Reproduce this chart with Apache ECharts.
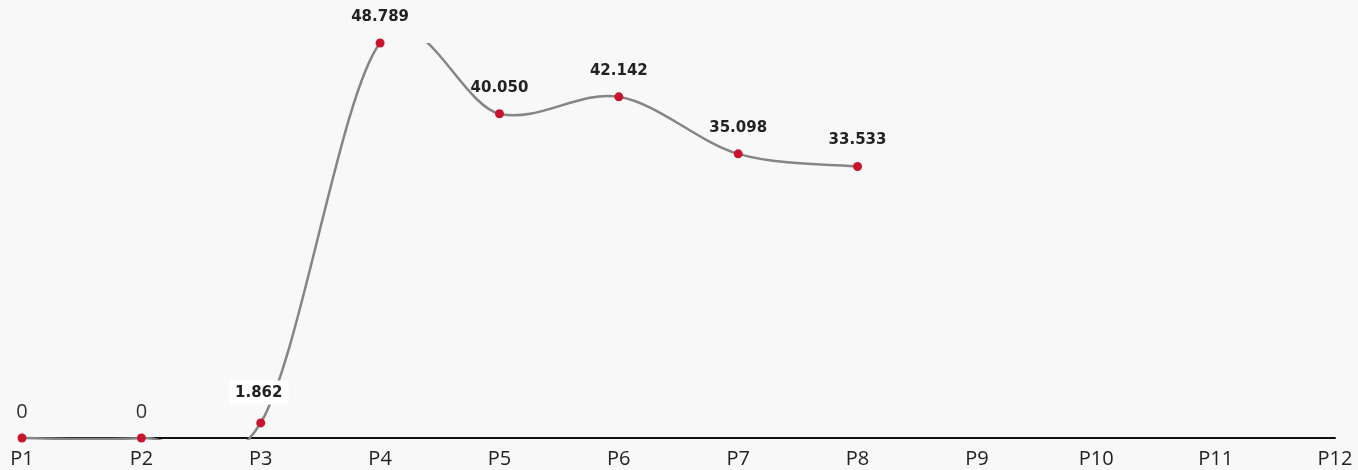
<!DOCTYPE html>
<html>
<head>
<meta charset="utf-8">
<script src="https://cdn.jsdelivr.net/npm/echarts@6/dist/echarts.min.js"></script>
<style>
  html, body { margin: 0; padding: 0; background: #f8f8f8; }
  #chart { width: 1358px; height: 470px; }
</style>
</head>
<body>
<div id="chart"></div>
<script>
  // categories and values
  const categories = ['P1', 'P2', 'P3', 'P4', 'P5', 'P6', 'P7', 'P8', 'P9', 'P10', 'P11', 'P12'];
  const values = [0, 0, 1.862, 48.789, 40.05, 42.142, 35.098, 33.533];

  const chart = echarts.init(document.getElementById('chart'));

  const seriesData = values.map((v, i) => {
    const item = { value: v };
    if (v === 0) {
      item.label = { fontFamily: 'Open Sans', fontSize: 20, fontWeight: 'normal', color: '#333', offset: [0, 3] };
    } else if (i === 2) {
      item.label = { backgroundColor: '#fff', padding: [5, 6, 4, 6], offset: [-2, 0] };
    }
    return item;
  });

  // spreadsheet-style smoothed line: one bezier segment per point, clipped to the grid
  function renderSegment(params, api) {
    const i = params.dataIndex;
    if (i >= values.length - 1) return null;
    const last = values.length - 1;
    const pt = k => {
      const j = Math.max(0, Math.min(last, k));
      return api.coord([j, values[j]]);
    };
    const p0 = pt(i - 1), p1 = pt(i), p2 = pt(i + 1), p3 = pt(i + 2);
    const cs = params.coordSys;
    return {
      type: 'group',
      clipPath: { type: 'rect', shape: { x: cs.x, y: cs.y, width: cs.width, height: cs.height + 2 } },
      children: [{
        type: 'bezierCurve',
        shape: {
          x1: p1[0], y1: p1[1],
          cpx1: p1[0] + (p2[0] - p0[0]) / 6, cpy1: p1[1] + (p2[1] - p0[1]) / 6,
          cpx2: p2[0] - (p3[0] - p1[0]) / 6, cpy2: p2[1] - (p3[1] - p1[1]) / 6,
          x2: p2[0], y2: p2[1],
        },
        style: { stroke: '#858585', lineWidth: 2.5, fill: null },
      }],
    };
  }

  chart.setOption({
    backgroundColor: '#f8f8f8',
    animation: false,
    grid: { left: 22, right: 23, top: 43, bottom: 32 },
    xAxis: {
      type: 'category',
      data: categories,
      boundaryGap: false,
      axisLine: { lineStyle: { color: '#111', width: 2 } },
      axisTick: { show: false },
      axisLabel: { fontFamily: 'Open Sans', fontSize: 20, color: '#222', margin: 11 },
    },
    yAxis: {
      type: 'value',
      min: 0,
      max: 'dataMax',
      show: false,
      splitLine: { show: false },
    },
    series: [
      {
        type: 'custom',
        renderItem: renderSegment,
        data: values.map((v, i) => [i, v]),
        z: 2,
        silent: true,
      },
      {
        type: 'line',
        data: seriesData,
        z: 3,
        symbol: 'circle',
        symbolSize: 9,
        itemStyle: { color: '#c8142d' },
        lineStyle: { width: 0, opacity: 0 },
        label: {
          show: true,
          position: 'top',
          distance: 14,
          fontFamily: 'DejaVu Sans',
          fontSize: 15,
          fontWeight: 'bold',
          color: '#222',
          formatter: p => (p.value === 0 ? '0' : p.value.toFixed(3)),
        },
      },
    ],
  });
</script>
</body>
</html>
